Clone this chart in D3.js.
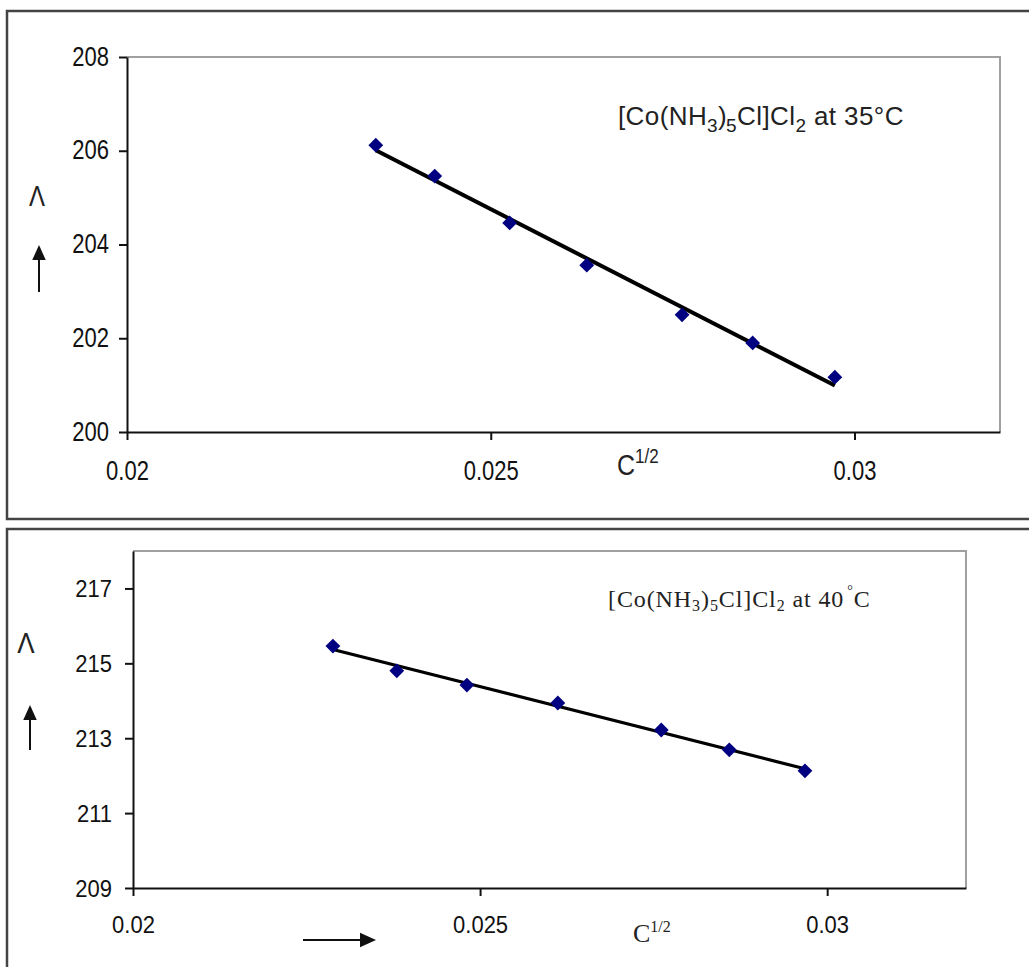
<!DOCTYPE html>
<head>
  <meta charset="utf-8">
  <script src="https://d3js.org/d3.v7.min.js"></script>
  <style>
body { margin: 0; background: #fff; }
.tick text { font-family: "Liberation Sans", Arial, sans-serif; fill: #111; }
.tick line, .domain { stroke: #111; stroke-width: 2px; }
  </style>
</head>

<body>
  <script>
    // C^1/2 values and molar conductance readings, 35 C series
    var x35 = [0.02342, 0.02423, 0.02526, 0.02632, 0.02763, 0.02860, 0.02973];
    var y35 = [206.12, 205.46, 204.46, 203.56, 202.50, 201.90, 201.17];
    // 40 C series
    var x40 = [0.02288, 0.02380, 0.02481, 0.02612, 0.02761, 0.02859, 0.02968];
    var y40 = [215.46, 214.80, 214.42, 213.94, 213.22, 212.69, 212.13];

    var xTicks = [0.02, 0.025, 0.03];
    var yTicks35 = [200, 202, 204, 206, 208];
    var yTicks40 = [209, 211, 213, 215, 217];

    var svg = d3.select("body").append("svg")
      .attr("width", 1029)
      .attr("height", 967);

    // outer frames
    svg.append("rect").attr("x", 7).attr("y", 11).attr("width", 1040).attr("height", 508)
      .attr("fill", "none").attr("stroke", "#444").attr("stroke-width", 2.5);
    svg.append("rect").attr("x", 7).attr("y", 529).attr("width", 1040).attr("height", 500)
      .attr("fill", "none").attr("stroke", "#444").attr("stroke-width", 2.5);

    function fit(xs, ys) {
      var mx = d3.mean(xs), my = d3.mean(ys);
      var sxy = d3.sum(xs, (v, i) => (v - mx) * (ys[i] - my));
      var sxx = d3.sum(xs, v => (v - mx) * (v - mx));
      var b = sxy / sxx;
      return v => my + b * (v - mx);
    }

    function arrow(g, x1, y1, x2, y2, head) {
      var a = Math.atan2(y2 - y1, x2 - x1);
      var bx = x2 - head * Math.cos(a), by = y2 - head * Math.sin(a);
      g.append("line").attr("x1", x1).attr("y1", y1).attr("x2", bx).attr("y2", by)
        .attr("stroke", "#111").attr("stroke-width", 2);
      var w = head * 0.45;
      var p = [[x2, y2],
               [bx + w * Math.sin(a), by - w * Math.cos(a)],
               [bx - w * Math.sin(a), by + w * Math.cos(a)]];
      g.append("path").attr("d", "M" + p.join("L") + "Z").attr("fill", "#111");
    }

    function panel(o) {
      var g = svg.append("g");
      var x = d3.scaleLinear().domain([0.02, 0.032]).range([o.left, o.right]);
      var y = d3.scaleLinear().domain(o.ydom).range([o.bottom, o.top]);

      // grey frame top / right
      g.append("path")
        .attr("d", `M${o.left},${o.top}H${o.right}V${o.bottom}`)
        .attr("fill", "none").attr("stroke", "#a0a0a0").attr("stroke-width", 2);

      var ya = g.append("g").attr("transform", `translate(${o.left},0)`)
        .call(d3.axisLeft(y).tickValues(o.yTicks).tickSize(8).tickSizeOuter(0));
      ya.selectAll("text")
        .attr("x", null).attr("dy", null)
        .style("font-size", o.fs + "px")
        .attr("transform", `translate(${o.ylabDx},8) scale(1,${o.sy})`);

      var xa = g.append("g").attr("transform", `translate(0,${o.bottom})`)
        .call(d3.axisBottom(x).tickValues(xTicks).tickSize(8).tickSizeOuter(0).tickFormat(d => String(d)));
      xa.selectAll("text")
        .attr("y", null).attr("dy", null)
        .style("font-size", o.fs + "px")
        .attr("transform", `translate(0,${o.xlabDy}) scale(1,${o.sy})`);
      g.selectAll(".domain").attr("stroke-width", 2.5);

      // fitted line
      var f = fit(o.xs, o.ys);
      var x0 = d3.min(o.xs), x1 = d3.max(o.xs);
      g.append("line")
        .attr("x1", x(x0)).attr("y1", y(f(x0)))
        .attr("x2", x(x1)).attr("y2", y(f(x1)))
        .attr("stroke", "#000").attr("stroke-width", o.lw);

      g.selectAll(".pt").data(o.xs).enter().append("path")
        .attr("class", "pt")
        .attr("d", d3.symbol(d3.symbolSquare, 110))
        .attr("fill", "#000080")
        .attr("transform", (d, i) => `translate(${x(d)},${y(o.ys[i])}) rotate(45)`);
      return g;
    }

    // ---- top panel, 35 C ----
    var g1 = panel({left: 127, right: 1000, top: 57, bottom: 432, ydom: [200, 208],
      yTicks: yTicks35, xs: x35, ys: y35, fs: 22, sy: 1.24, ylabDx: -18, xlabDy: 48, lw: 4});

    var t1 = g1.append("text").attr("x", 618).attr("y", 125)
      .style("font-family", "'Liberation Sans', Arial, sans-serif").style("font-size", "26px")
      .style("letter-spacing", "0.4px").attr("fill", "#222");
    t1.append("tspan").text("[Co(NH");
    t1.append("tspan").text("3").style("font-size", "19px").attr("dy", 7);
    t1.append("tspan").text(")").attr("dy", -7);
    t1.append("tspan").text("5").style("font-size", "19px").attr("dy", 7).attr("dx", -1);
    t1.append("tspan").text("Cl]Cl").attr("dy", -7);
    t1.append("tspan").text("2").style("font-size", "19px").attr("dy", 7);
    t1.append("tspan").text(" at 35°C").attr("dy", -7);

    var xl1 = g1.append("text").attr("transform", "translate(617,475) scale(1,1.2)")
      .style("font-family", "'Liberation Sans', Arial, sans-serif").style("font-size", "25px")
      .attr("fill", "#222");
    xl1.append("tspan").text("C");
    xl1.append("tspan").text("1/2").style("font-size", "17px").attr("dy", -10);

    g1.append("text").attr("transform", "translate(37,206) scale(1,1.2)")
      .attr("text-anchor", "middle")
      .style("font-family", "'Liberation Sans', Arial, sans-serif").style("font-size", "24px")
      .style("font-weight", "300").attr("fill", "#222").text("Λ");
    arrow(g1, 39, 292, 39, 245, 15);

    // ---- bottom panel, 40 C ----
    var g2 = panel({left: 133, right: 966, top: 551, bottom: 888, ydom: [209, 218],
      yTicks: yTicks40, xs: x40, ys: y40, fs: 22, sy: 1.08, ylabDx: -21, xlabDy: 45, lw: 3.2});

    var t2 = g2.append("text").attr("x", 608).attr("y", 607)
      .style("font-family", "'Liberation Serif', 'Times New Roman', serif").style("font-size", "24px")
      .style("letter-spacing", "0.9px").attr("fill", "#222");
    t2.append("tspan").text("[Co(NH");
    t2.append("tspan").text("3").style("font-size", "16px").attr("dy", 4);
    t2.append("tspan").text(")").attr("dy", -4);
    t2.append("tspan").text("5").style("font-size", "16px").attr("dy", 4);
    t2.append("tspan").text("Cl]Cl").attr("dy", -4);
    t2.append("tspan").text("2").style("font-size", "16px").attr("dy", 4);
    t2.append("tspan").text(" at 40").attr("dy", -4);
    t2.append("tspan").text("°").style("font-size", "14px").attr("dy", -12).attr("dx", 3);
    t2.append("tspan").text("C").attr("dy", 12);

    var xl2 = g2.append("text").attr("x", 633).attr("y", 942)
      .style("font-family", "'Liberation Serif', 'Times New Roman', serif").style("font-size", "26px")
      .attr("fill", "#222");
    xl2.append("tspan").text("C");
    xl2.append("tspan").text("1/2").style("font-size", "16px").attr("dy", -10);

    g2.append("text").attr("transform", "translate(26,653) scale(1,1.1)")
      .attr("text-anchor", "middle")
      .style("font-family", "'Liberation Sans', Arial, sans-serif").style("font-size", "26px")
      .style("font-weight", "300").attr("fill", "#222").text("Λ");
    arrow(g2, 30, 750, 30, 705, 15);
    arrow(g2, 303, 940, 376, 940, 16);
  </script>
</body>
